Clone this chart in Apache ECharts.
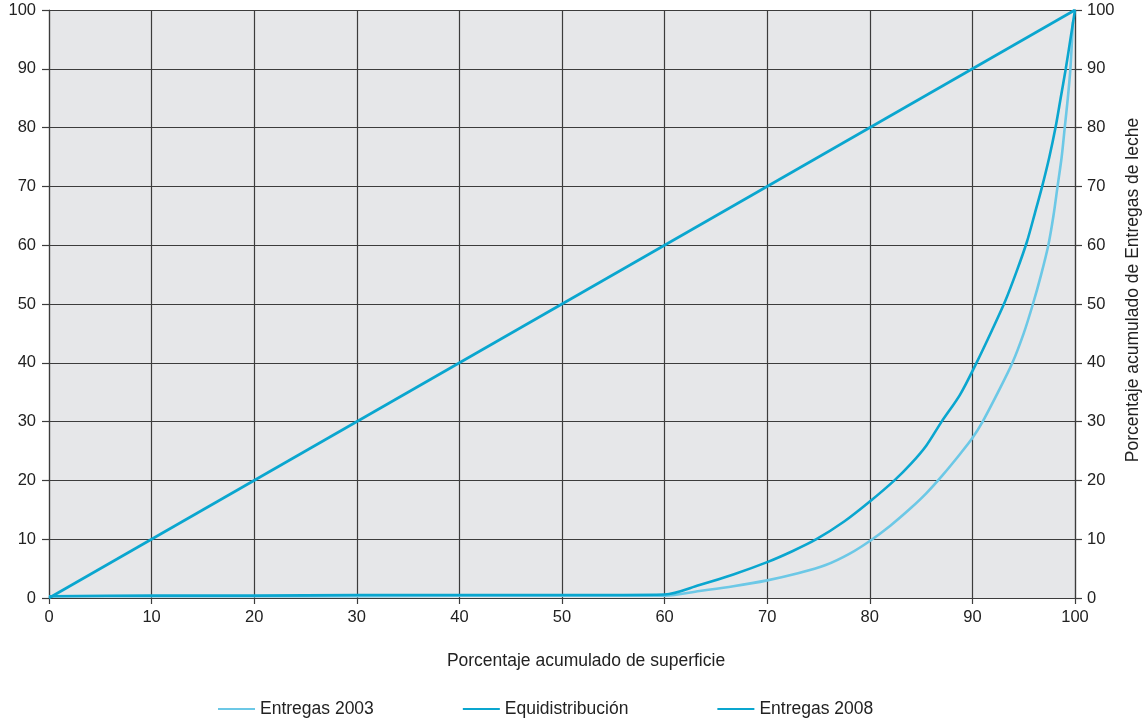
<!DOCTYPE html>
<html>
<head>
<meta charset="utf-8">
<script src="https://cdn.jsdelivr.net/npm/echarts@6/dist/echarts.min.js"></script>
<style>html,body{margin:0;padding:0;background:#fff}#c{width:1147px;height:722px}</style>
</head>
<body>
<div id="c"></div>
<script>
const xTicks = [0,10,20,30,40,50,60,70,80,90,100];
const seriesNames = ['Entregas 2003','Equidistribución','Entregas 2008'];
const entregas2003 = [[0,0.3],[10,0.3],[20,0.3],[30,0.3],[40,0.4],[50,0.4],[60,0.4],[63.4,1.2],[66.7,2.0],[70,3.0],[73,4.2],[75.7,5.6],[78,7.5],[80,9.7],[82,12.3],[84,15.3],[85.5,17.8],[87.1,20.9],[88.8,24.5],[90,27.2],[91,30],[92.5,35],[93.9,40],[95,45],[95.9,50],[96.7,55],[97.4,60],[97.9,65],[98.3,70],[98.7,75],[99.0,80],[99.3,85],[99.55,90],[99.8,98]];
const equidistribucion = [[0,0],[100,100]];
const entregas2008 = [[0,0.3],[10,0.4],[20,0.4],[30,0.5],[40,0.5],[50,0.5],[60,0.6],[63.4,2.2],[66.7,4.0],[70,6.1],[72.5,8],[74.8,10],[77.5,13],[80,16.4],[82.4,20],[84,22.8],[85.5,25.9],[87,30],[88.8,34.6],[90.4,40],[91.9,45.5],[93.2,50.5],[94.3,55.5],[95.3,60.5],[96.1,65.5],[96.8,70],[97.5,75],[98.1,80],[98.6,85],[99.1,90],[99.55,95],[100,100]];

const dark = '#0aa6cf';
const light = '#6cc8e6';
const gridCol = '#3c3c3c';
const font = 'Liberation Sans, Arial, sans-serif';

const chart = echarts.init(document.getElementById('c'));
const yAxisCommon = {
  type:'value', min:0, max:100, interval:10,
  axisLine:{show:true, lineStyle:{color:gridCol, width:1.2}},
  axisTick:{show:true, length:7, lineStyle:{color:gridCol, width:1.2}},
  axisLabel:{fontFamily:font, fontSize:16.5, color:'#222'}
};
chart.setOption({
  backgroundColor:'#fff',
  animation:false,
  grid:{left:49, right:72, top:10, bottom:124, show:true, backgroundColor:'#e6e7e9', borderColor:gridCol, borderWidth:0},
  xAxis:{
    type:'value', min:0, max:100, interval:10,
    axisLine:{show:true, onZero:false, lineStyle:{color:gridCol, width:1.2}},
    axisTick:{show:true, length:6, lineStyle:{color:gridCol, width:1.2}},
    axisLabel:{fontFamily:font, fontSize:16.5, color:'#222', margin:11, formatter:v=>xTicks.includes(v)?String(v):''},
    splitLine:{show:true, lineStyle:{color:gridCol, width:1.2}}
  },
  yAxis:[
    Object.assign({}, yAxisCommon, {position:'left', axisLabel:Object.assign({}, yAxisCommon.axisLabel, {margin:13}), splitLine:{show:true, lineStyle:{color:gridCol, width:1.2}}}),
    Object.assign({}, yAxisCommon, {position:'right', axisLabel:Object.assign({}, yAxisCommon.axisLabel, {margin:12}), splitLine:{show:false}})
  ],
  legend:{
    top:695, left:213, itemWidth:37, itemHeight:12, itemGap:89,
    icon:'path://M0,5L37,5L37,7L0,7Z',
    textStyle:{fontFamily:font, fontSize:17.5, color:'#222'},
    data:seriesNames
  },
  graphic:[
    {type:'text', x:586, y:661, style:{text:'Porcentaje acumulado de superficie', fontFamily:font, fontSize:17.5, fill:'#222', align:'center', verticalAlign:'middle'}},
    {type:'text', x:1133, y:290, rotation:Math.PI/2, style:{text:'Porcentaje acumulado de Entregas de leche', fontFamily:font, fontSize:17.5, fill:'#222', align:'center', verticalAlign:'middle'}}
  ],
  series:[
    {name:seriesNames[0], type:'line', data:entregas2003, symbol:'none', smooth:0.3, lineStyle:{color:light, width:2.6}, itemStyle:{color:light}, z:3},
    {name:seriesNames[1], type:'line', data:equidistribucion, symbol:'none', lineStyle:{color:dark, width:2.6}, itemStyle:{color:dark}, z:4},
    {name:seriesNames[2], type:'line', data:entregas2008, symbol:'none', smooth:0.3, lineStyle:{color:dark, width:2.6}, itemStyle:{color:dark}, z:5}
  ]
});
</script>
</body>
</html>
